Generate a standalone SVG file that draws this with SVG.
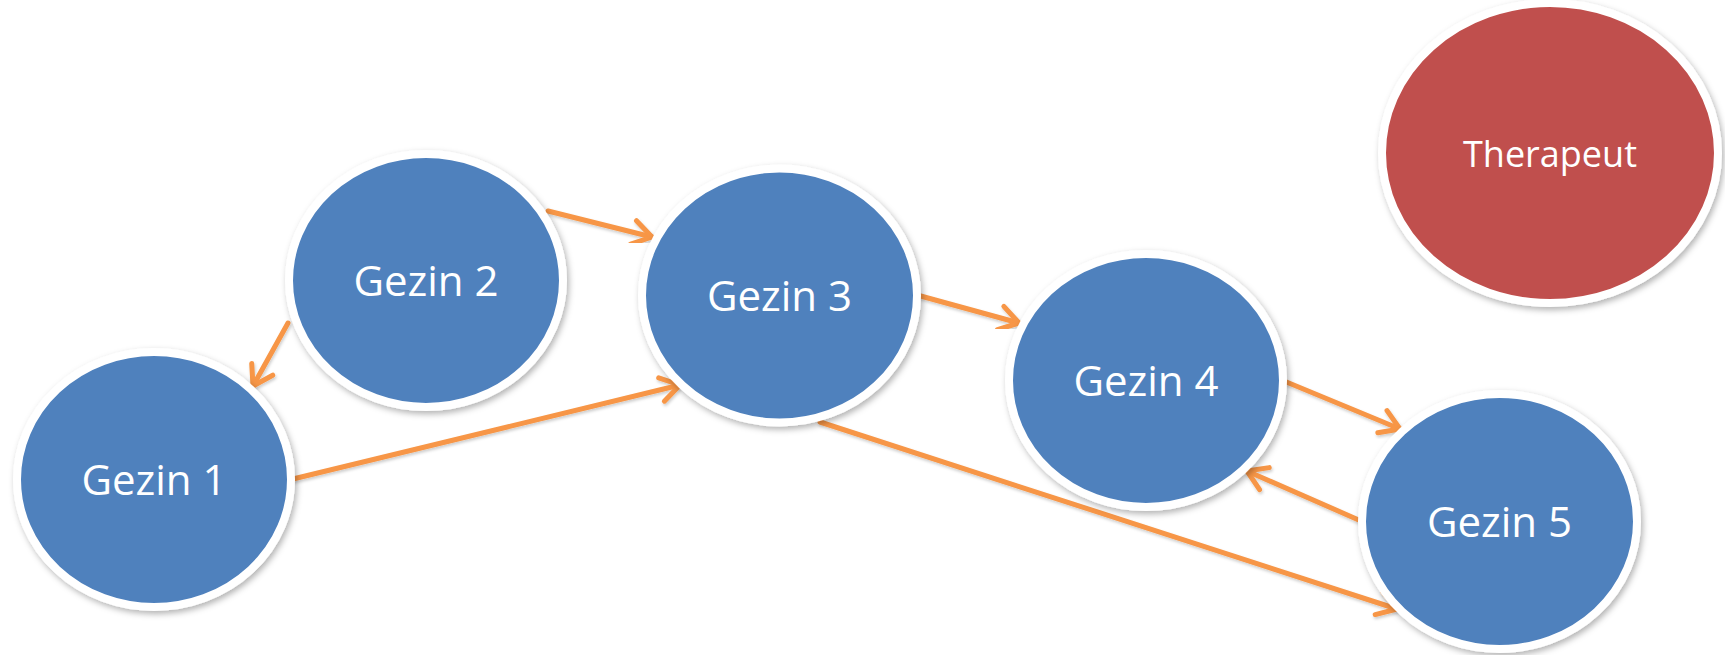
<svg xmlns="http://www.w3.org/2000/svg" width="1725" height="655" viewBox="0 0 1725 655">
  <style>
    .node { stroke: #ffffff; stroke-width: 8; filter: url(#shadow); }
    .blue { fill: #4F81BD; }
    .red { fill: #C0504D; }
    .label { font-family: "Open Sans", "Liberation Sans", sans-serif; fill: #ffffff; text-anchor: middle; }
    .edge { stroke: #F79646; stroke-width: 5; fill: none; stroke-linecap: round; marker-end: url(#arrow); filter: url(#lshadow); }
  </style>
  <defs>
    <filter id="shadow" x="-20%" y="-20%" width="140%" height="140%">
      <feDropShadow dx="2" dy="3" stdDeviation="3" flood-color="#000000" flood-opacity="0.3"/>
    </filter>
    <filter id="lshadow" x="-20%" y="-20%" width="140%" height="140%">
      <feDropShadow dx="1" dy="2" stdDeviation="1.5" flood-color="#000000" flood-opacity="0.2"/>
    </filter>
    <marker id="arrow" markerUnits="userSpaceOnUse" viewBox="-26 -16 30 32" markerWidth="30" markerHeight="32" refX="0" refY="0" orient="auto">
      <path d="M -19,-12 L 0,0 L -19,12" fill="none" stroke="#F79646" stroke-width="5" stroke-linecap="round" stroke-linejoin="round"/>
    </marker>
  </defs>

  <g id="connectors">
    <line class="edge" x1="288" y1="323" x2="253" y2="386"/>
    <line class="edge" x1="293" y1="479" x2="680" y2="385"/>
    <line class="edge" x1="548" y1="211" x2="652" y2="237"/>
    <line class="edge" x1="917" y1="295" x2="1019" y2="323"/>
    <line class="edge" x1="1284" y1="381" x2="1400" y2="429"/>
    <line class="edge" x1="1361" y1="521" x2="1247" y2="471"/>
    <line class="edge" x1="820" y1="422" x2="1397" y2="609"/>
  </g>

  <g id="gezin1">
    <ellipse class="node blue" cx="154" cy="479.5" rx="137" ry="127.5"/>
    <text class="label" x="154" y="495" font-size="42">Gezin 1</text>
  </g>
  <g id="gezin2">
    <ellipse class="node blue" cx="426" cy="280.5" rx="137" ry="126.5"/>
    <text class="label" x="426" y="296" font-size="42">Gezin 2</text>
  </g>
  <g id="gezin3">
    <ellipse class="node blue" cx="779.5" cy="295.5" rx="137.5" ry="127"/>
    <text class="label" x="779.5" y="311" font-size="42">Gezin 3</text>
  </g>
  <g id="gezin4">
    <ellipse class="node blue" cx="1146" cy="380.5" rx="137" ry="126.5"/>
    <text class="label" x="1146" y="396" font-size="42">Gezin 4</text>
  </g>
  <g id="gezin5">
    <ellipse class="node blue" cx="1499.5" cy="521.5" rx="137.5" ry="127.5"/>
    <text class="label" x="1499.5" y="537" font-size="42">Gezin 5</text>
  </g>
  <g id="therapeut">
    <ellipse class="node red" cx="1550" cy="153" rx="168" ry="150"/>
    <text class="label" x="1550" y="167" font-size="36">Therapeut</text>
  </g>
</svg>
